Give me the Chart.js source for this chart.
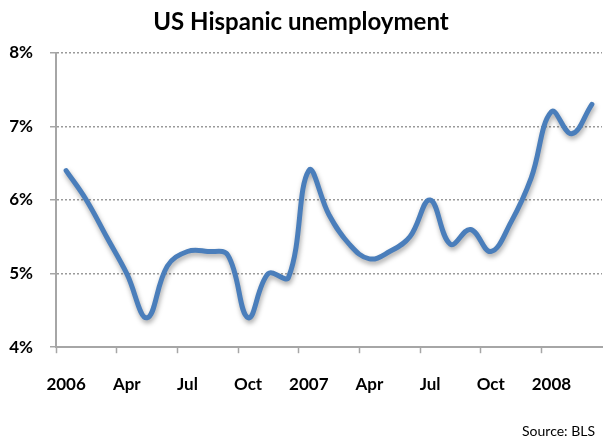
<!DOCTYPE html>
<html>
<head>
<meta charset="utf-8">
<script src="https://cdn.jsdelivr.net/npm/chart.js@4"></script>
<style>
  body { margin: 0; background: #fff; }
  #wrap { width: 603px; height: 443px; }
</style>
</head>
<body>
<div id="wrap"><canvas id="unempChart" width="603" height="443"></canvas></div>
<script>
// monthly, Jan 2006 - Mar 2008
const months = ['2006', 'Feb', 'Mar', 'Apr', 'May', 'Jun', 'Jul', 'Aug', 'Sep', 'Oct', 'Nov', 'Dec',
  '2007', 'Feb', 'Mar', 'Apr', 'May', 'Jun', 'Jul', 'Aug', 'Sep', 'Oct', 'Nov', 'Dec',
  '2008', 'Feb', 'Mar'];
const rates = [6.4, 6.0, 5.5, 5.0, 4.4, 5.1, 5.3, 5.3, 5.25, 4.4, 5.0, 4.95,
  6.4, 5.8, 5.4, 5.2, 5.3, 5.5, 6.0, 5.4, 5.6, 5.3, 5.7, 6.3,
  7.2, 6.9, 7.3];
const yTicks = [4, 5, 6, 7, 8];

const font = 'Lato';

const lineShadow = {
  id: 'lineShadow',
  beforeDatasetDraw(chart) {
    const ctx = chart.ctx;
    ctx.save();
    ctx.shadowColor = 'rgba(0,0,0,0.35)';
    ctx.shadowBlur = 5;
    ctx.shadowOffsetX = 1;
    ctx.shadowOffsetY = 3;
  },
  afterDatasetDraw(chart) {
    chart.ctx.restore();
  }
};

document.addEventListener('DOMContentLoaded', () => {
  const ctx = document.getElementById('unempChart').getContext('2d');

  new Chart(ctx, {
    type: 'line',
    data: {
      labels: months,
      datasets: [{
        label: 'US Hispanic unemployment',
        data: rates,
        borderColor: '#4a7ebb',
        borderWidth: 5,
        tension: 0.4,
        pointRadius: 0,
        fill: false,
        borderCapStyle: 'round',
        borderJoinStyle: 'round'
      }]
    },
    options: {
      responsive: false,
      animation: false,
      layout: { padding: { left: 0, right: 1, top: 0, bottom: 0 } },
      plugins: {
        legend: { display: false },
        tooltip: { enabled: false },
        title: {
          display: true,
          text: 'US Hispanic unemployment',
          color: '#000',
          font: { family: font, size: 24, weight: 'bold' },
          padding: { top: 8, bottom: 16 }
        },
        subtitle: {
          display: true,
          text: 'Source: BLS\u2002',
          position: 'bottom',
          align: 'end',
          color: '#000',
          font: { family: font, size: 14, weight: 'normal' },
          padding: { top: 0, bottom: 3 }
        }
      },
      scales: {
        x: {
          type: 'category',
          offset: true,
          afterFit(scale) {
            scale.height = 76;
            scale.paddingLeft = 0;
            scale.paddingRight = 0;
          },
          grid: {
            offset: true,
            drawOnChartArea: false,
            drawTicks: true,
            tickLength: 6,
            tickWidth: 1.5,
            tickColor: c => (c.index % 3 === 0 ? '#a6a6a6' : 'rgba(0,0,0,0)')
          },
          border: { display: true, color: '#a6a6a6', width: 2 },
          ticks: {
            autoSkip: false,
            maxRotation: 0,
            minRotation: 0,
            padding: 21,
            color: '#000',
            font: { family: font, size: 17, weight: 'bold' },
            callback: (v, i) => (i % 3 === 0 ? months[i] : '')
          }
        },
        y: {
          min: yTicks[0],
          max: yTicks[yTicks.length - 1],
          afterFit(scale) { scale.width = 56; },
          afterBuildTicks(scale) { scale.ticks = yTicks.map(v => ({ value: v })); },
          grid: {
            color: c => (c.tick && c.tick.value === yTicks[0] ? 'rgba(0,0,0,0)' : '#9a9a9a'),
            lineWidth: 1.5,
            tickLength: 6,
            tickColor: '#a6a6a6',
            tickBorderDash: []
          },
          border: { display: true, color: '#a6a6a6', width: 2, dash: [2, 2] },
          ticks: {
            padding: 17,
            color: '#000',
            font: { family: font, size: 17, weight: 'bold' },
            callback: v => v + '%'
          }
        }
      }
    },
    plugins: [lineShadow]
  });
});
</script>
</body>
</html>
